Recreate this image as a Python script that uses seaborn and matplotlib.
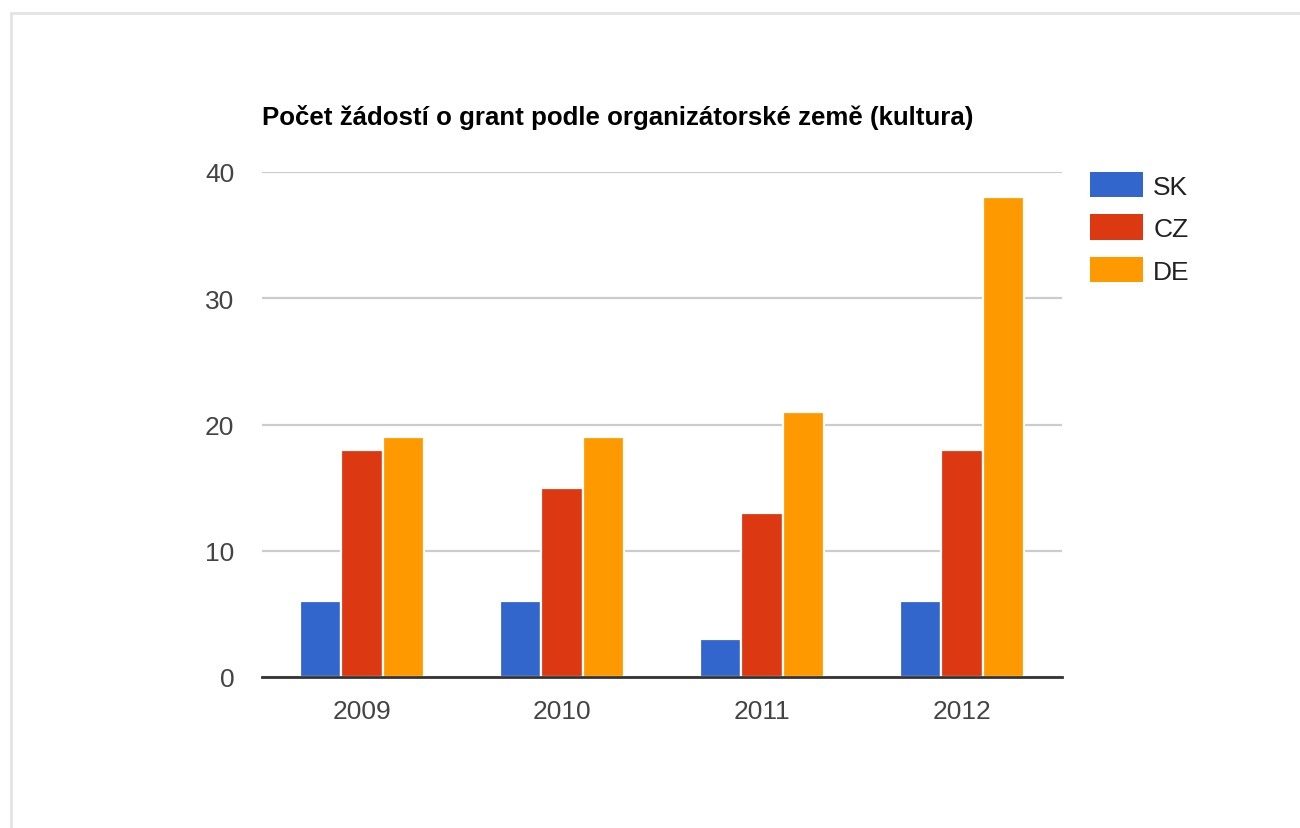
import matplotlib
matplotlib.use("Agg")
import matplotlib.pyplot as plt
from matplotlib.patches import Rectangle
import pandas as pd
import seaborn as sns

years = ["2009", "2010", "2011", "2012"]
countries = ["SK", "CZ", "DE"]
sk_values = [6, 6, 3, 6]
cz_values = [18, 15, 13, 18]
de_values = [19, 19, 21, 38]
y_ticks = [0, 10, 20, 30, 40]
title_text = "Počet žádostí o grant podle organizátorské země (kultura)"

colors = {"SK": "#3366cc", "CZ": "#dc3912", "DE": "#ff9900"}

df = pd.DataFrame({
    "rok": years * 3,
    "zeme": ["SK"] * 4 + ["CZ"] * 4 + ["DE"] * 4,
    "pocet": sk_values + cz_values + de_values,
})

sns.set_theme(style="white")
plt.rcParams["font.family"] = ["Liberation Sans", "DejaVu Sans"]

W, H = 1300, 829
fig = plt.figure(figsize=(W / 100, H / 100), dpi=100)
fig.patch.set_facecolor("white")

# light frame around the card
fig.add_artist(Rectangle((10.5 / W, -0.05), 1.2, 1 - 13.5 / H + 0.05,
                         transform=fig.transFigure, fill=False,
                         edgecolor="#e3e3e3", linewidth=2.0))

left, right = 262 / W, 1062 / W
bottom, top = 1 - 678 / H, 1 - 173 / H
ax = fig.add_axes([left, bottom, right - left, top - bottom])

sns.barplot(data=df, x="rok", y="pocet", hue="zeme", hue_order=countries,
            order=years, palette=colors, width=0.62, gap=0.0,
            edgecolor="white", linewidth=1.6, saturation=1.0, ax=ax,
            legend=False)

ax.set_xlim(-0.5, len(years) - 0.5)
ax.set_ylim(0, 40)
ax.set_yticks(y_ticks)
ax.yaxis.grid(True, color="#cccccc", linewidth=1.6)
ax.set_axisbelow(True)
for s in ["top", "right", "left"]:
    ax.spines[s].set_visible(False)
ax.spines["bottom"].set_color("#333333")
ax.spines["bottom"].set_linewidth(2.0)
ax.spines["bottom"].set_zorder(5)
ax.tick_params(axis="both", length=0, labelsize=19, labelcolor="#444444")
ax.tick_params(axis="y", pad=20)
ax.tick_params(axis="x", pad=16)
ax.set_xlabel("")
ax.set_ylabel("")

fig.text(left, 1 - 117 / H, title_text, fontsize=18.6, fontweight="bold",
         color="#000000", ha="left", va="center")

handles = [Rectangle((0, 0), 1, 1, facecolor=colors[c], edgecolor="none")
           for c in countries]
fig.legend(handles, countries, loc="upper left",
           bbox_to_anchor=(1090 / W, 1 - 173 / H), frameon=False,
           fontsize=19, labelcolor="#222222", handlelength=2.0,
           handleheight=1.1, handletextpad=0.4, labelspacing=0.6,
           borderpad=0, borderaxespad=0)

fig.savefig("out.png", dpi=100, facecolor="white")
